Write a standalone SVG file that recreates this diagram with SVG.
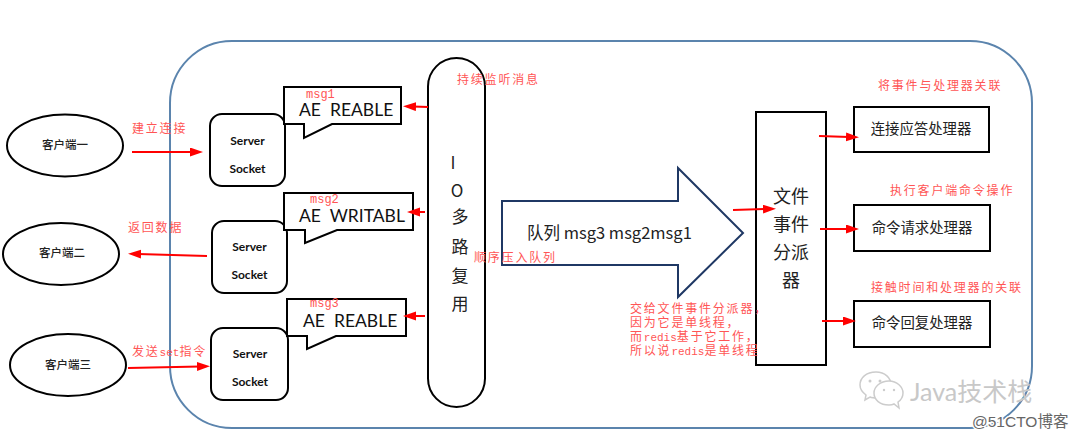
<svg xmlns="http://www.w3.org/2000/svg" width="1080" height="439" viewBox="0 0 1080 439">
<style>
text{white-space:pre}
.box{fill:#fff;stroke:#000;stroke-width:2}
.cjk{font-family:"Noto Sans CJK SC","Noto Sans",sans-serif;fill:#222}
.lat{font-family:Lato,"Noto Sans CJK SC",sans-serif;fill:#111}
.ss{font-size:12px;font-weight:700;text-anchor:middle}
.client{font-size:11.5px;text-anchor:middle;font-weight:500}
.ae{font-size:17.5px}
.big{font-size:17px;text-anchor:middle}
.hd{font-size:14.4px;text-anchor:middle}
.red{font-family:"Noto Sans CJK SC",sans-serif;font-size:12px;letter-spacing:1.8px;fill:#f55}
.m{font-family:"Liberation Mono",monospace;font-size:11px;letter-spacing:0;fill:#f55}
.msg{font-family:"Liberation Mono",monospace;font-size:12px;fill:#f55}
.conn{stroke:#f00;stroke-width:2;fill:none;marker-end:url(#head)}
</style>
<defs>
<marker id="head" markerUnits="userSpaceOnUse" markerWidth="14" markerHeight="10" refX="3" refY="4.5" orient="auto"><path d="M0,0 L13,4.5 L0,9 z" fill="#f00"/></marker>
</defs>
<rect id="container" x="170" y="41" width="862" height="387" rx="62" ry="62" fill="#fff" stroke="#5b84ad" stroke-width="2"/>

<g id="client1"><ellipse class="box" cx="65" cy="145.5" rx="58" ry="31"/><text class="cjk client" x="65" y="149">客户端一</text></g>
<g id="client2"><ellipse class="box" cx="61" cy="254" rx="58" ry="31"/><text class="cjk client" x="62" y="257">客户端二</text></g>
<g id="client3"><ellipse class="box" cx="68" cy="365" rx="58" ry="31"/><text class="cjk client" x="68" y="369">客户端三</text></g>

<g id="socket1"><rect class="box" x="210" y="114" width="75" height="72" rx="12"/><text class="lat ss" x="247.500" y="145">Server</text><text class="lat ss" x="247.500" y="173">Socket</text></g>
<g id="socket2"><rect class="box" x="212" y="221" width="75" height="72" rx="12"/><text class="lat ss" x="249.500" y="251">Server</text><text class="lat ss" x="249.500" y="279">Socket</text></g>
<g id="socket3"><rect class="box" x="211" y="328" width="77" height="72" rx="12"/><text class="lat ss" x="250" y="358">Server</text><text class="lat ss" x="250" y="386">Socket</text></g>

<g id="event1"><path class="box" d="M284,87 H401 V124 H332 L304,138 V124 H284 z"/><text class="lat ae" x="299" y="116">AE  REABLE</text></g>
<g id="event2"><path class="box" d="M284,193 H413 V230 H337 L305,243 V230 H284 z"/><text class="lat ae" x="299" y="227" dy="-5">AE  WRITABL</text></g>
<g id="event3"><path class="box" d="M287,299 H406 V336 H336 L307,349 V336 H287 z"/><text class="lat ae" x="303" y="327">AE  REABLE</text></g>

<g id="io"><rect class="box" x="428" y="58" width="57" height="349" rx="28.500"/>
<g class="cjk big"><text x="453" y="169">I</text><text x="457" y="197">O</text><text x="460" y="223">多</text><text x="460" y="253">路</text><text x="460" y="282">复</text><text x="460" y="310">用</text></g></g>

<g id="queue"><path d="M502,201 H678 V168 L743,233 L678,297 V265 H502 z" fill="#fff" stroke="#1f3864" stroke-width="2"/><text class="cjk" x="527" y="239" font-size="16.500">队列 msg3 msg2msg1</text></g>

<g id="dispatcher"><rect class="box" x="756" y="112" width="70" height="253"/>
<g class="cjk" font-size="18" text-anchor="middle"><text x="791" y="203">文件</text><text x="791" y="231">事件</text><text x="791" y="259">分派</text><text x="791" y="287">器</text></g></g>

<g id="handler1"><rect class="box" x="854" y="107" width="135" height="45"/><text class="cjk hd" x="921" y="134">连接应答处理器</text></g>
<g id="handler2"><rect class="box" x="854" y="205" width="136" height="46"/><text class="cjk hd" x="922" y="233">命令请求处理器</text></g>
<g id="handler3"><rect class="box" x="854" y="301" width="136" height="46"/><text class="cjk hd" x="922" y="328">命令回复处理器</text></g>

<g id="connectors">
<line class="conn" x1="132" y1="152" x2="193" y2="152"/>
<line class="conn" x1="207" y1="256" x2="138" y2="254"/>
<line class="conn" x1="128" y1="368" x2="200" y2="366.500"/>
<line class="conn" x1="428" y1="107" x2="413" y2="106.500"/>
<line class="conn" x1="425" y1="212" x2="417" y2="212"/>
<line class="conn" x1="425" y1="316" x2="413" y2="316"/>
<line class="conn" x1="733" y1="210" x2="766" y2="209"/>
<line class="conn" x1="819" y1="136" x2="849" y2="137"/>
<line class="conn" x1="820" y1="229" x2="849" y2="229"/>
<line class="conn" x1="822" y1="321" x2="846" y2="321"/>
</g>

<g id="labels">
<text class="red" x="132" y="133">建立连接</text>
<text class="red" x="128" y="232">返回数据</text>
<text class="red" x="132" y="356">发送<tspan class="m">set</tspan>指令</text>
<text class="msg" x="306" y="98">msg1</text>
<text class="msg" x="310" y="203">msg2</text>
<text class="msg" x="310" y="307">msg3</text>
<text class="red" x="457" y="84">持续监听消息</text>
<text class="red" x="474" y="262">顺序压入队列</text>
<text class="red" x="630" y="313">交给文件事件分派器，</text>
<text class="red" x="630" y="327">因为它是单线程，</text>
<text class="red" x="630" y="341">而<tspan class="m">redis</tspan>基于它工作，</text>
<text class="red" x="630" y="355">所以说<tspan class="m">redis</tspan>是单线程</text>
<text class="red" x="878" y="90">将事件与处理器关联</text>
<text class="red" x="890" y="195">执行客户端命令操作</text>
<text class="red" x="871" y="292">接触时间和处理器的关联</text>
</g>

<g id="watermark">
<g fill="#fff" stroke="#ccc" stroke-width="1.500">
<path d="M876,372 C866,372 860,378 860,385 C860,389 862,392 866,395 L865,400 L870,397 C872,398 875,398 878,398 C885,398 891,391 891,385 C891,378 885,372 876,372 z"/>
<path d="M889,381 C880,381 874,387 874,393 C874,400 880,405 889,405 C891,405 892,405 894,404 L899,408 L898,402 C901,400 903,397 903,393 C903,387 897,381 889,381 z"/>
</g>
<g fill="#ccc"><circle cx="870" cy="381" r="1.500"/><circle cx="880" cy="381" r="1.500"/><circle cx="884" cy="390" r="1.200"/><circle cx="894" cy="390" r="1.200"/></g>
<text x="910" y="401" font-family="Lato,'Noto Sans CJK SC',sans-serif" font-size="25" fill="#c8c8c8">Java技术栈</text>
<text x="972" y="427" font-family="'Liberation Sans','Noto Sans CJK SC',sans-serif" font-size="15.500" fill="#666" stroke="#fff" stroke-width="3" paint-order="stroke">@51CTO博客</text>
</g>
</svg>
